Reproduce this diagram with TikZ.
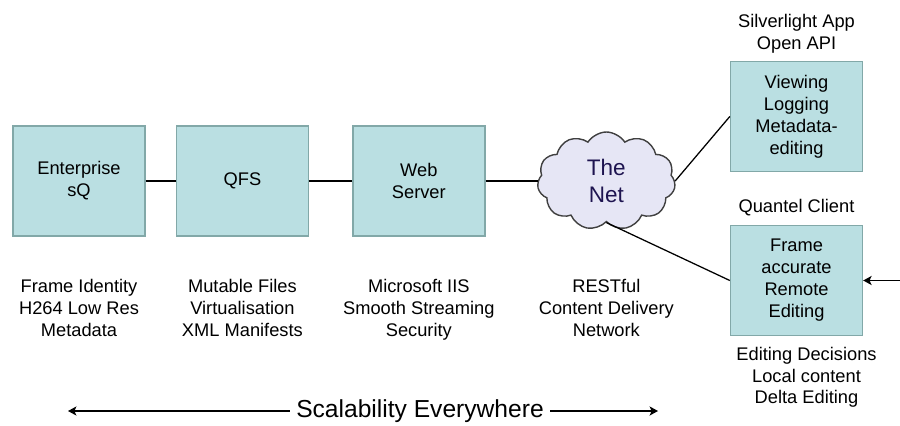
\documentclass[tikz,border=0pt]{standalone}
\usepackage{fontspec}
\setmainfont{Liberation Sans}
\usetikzlibrary{arrows.meta,positioning,shapes.symbols}
\definecolor{boxfill}{RGB}{186,223,226}
\definecolor{boxline}{RGB}{130,168,168}
\definecolor{netfill}{RGB}{230,230,245}
\definecolor{nettext}{RGB}{30,20,80}

\begin{document}
\begin{tikzpicture}[>={Stealth[length=6pt,width=6.5pt,inset=1.5pt]},line width=0.9pt,
                    node distance=0.75cm,font=\fontsize{13}{15.6}\selectfont]
  \tikzstyle{box}=[rectangle,draw=boxline,fill=boxfill,line width=1pt,
                   minimum width=3.3cm,minimum height=2.75cm,align=center,inner sep=0pt]
  \tikzstyle{note}=[align=center,inner sep=0pt]
  \tikzstyle{netcloud}=[cloud,draw=black!75,fill=netfill,line width=1pt,cloud puffs=11,
                        cloud puff arc=115,cloud ignores aspect,minimum width=3.45cm,
                        minimum height=2.45cm,text=nettext,align=center,
                        font=\fontsize{16}{19.5}\selectfont]

  \useasboundingbox (0,0) rectangle (22.5,-10.625);

  \node[box] (esq) at (1.975,-4.525) {Enterprise\\sQ};
  \node[box] (qfs) [right=0.75cm of esq] {QFS};
  \node[box] (web) [right=1.075cm of qfs] {Web\\Server};
  \node[netcloud] (net) [right=1.3cm of web] {The\\Net};
  \node[box] (slv) at (19.9125,-2.9125) {Viewing\\Logging\\Metadata-\\editing};
  \node[box] (qc) at (19.9125,-7.0125) {Frame\\accurate\\Remote\\Editing};

  \node[note] (fid) [below=1.05cm of esq] {Frame Identity\\H264 Low Res\\Metadata};
  \node[note] (mut) [below=1.05cm of qfs] {Mutable Files\\Virtualisation\\XML Manifests};
  \node[note] (iis) [below=1.05cm of web] {Microsoft IIS\\Smooth Streaming\\Security};
  \node[note,anchor=north] (rest) at (net |- iis.north) {RESTful\\Content Delivery\\Network};
  \node[note] (sla) [above=0.17cm of slv] {Silverlight App\\Open API};
  \node[note] (qcl) [above=0.2cm of qc] {Quantel Client};
  \node[note] (edd) [below=0.25cm of qc,xshift=0.25cm] {Editing Decisions\\Local content\\Delta Editing};

  \node[font=\fontsize{17.5}{21}\selectfont,inner sep=0.15cm] (scal) at (10.5,-10.275)
       {Scalability Everywhere};
  \coordinate (sl) at (1.7,-10.275);
  \coordinate (sr) at (16.45,-10.275);
  \coordinate (feed) at (22.5,-7.0125);

  \path (esq) edge (qfs)
        (qfs) edge (web)
        (web) edge (net)
        (net.east) edge (slv.west)
        (net.south) edge (qc.west);
  \draw[->] (feed) -- (qc);
  \draw[->] (scal) -- (sl);
  \draw[->] (scal) -- (sr);
\end{tikzpicture}
\end{document}
